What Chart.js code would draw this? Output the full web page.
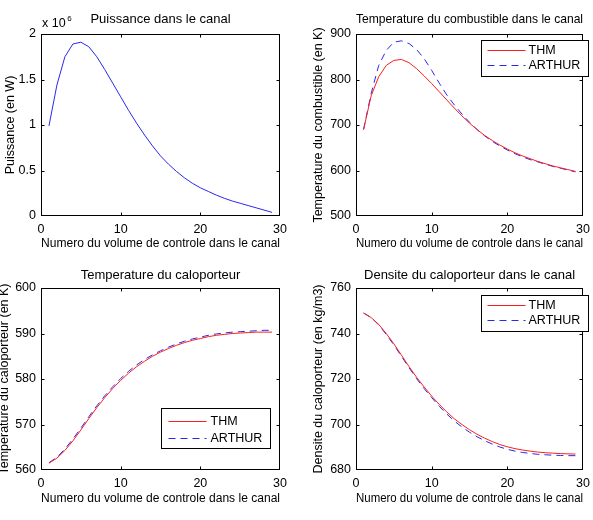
<!DOCTYPE html>
<html>
<head>
<meta charset="utf-8">
<script src="https://cdn.jsdelivr.net/npm/chart.js@4/dist/chart.umd.min.js"></script>
<style>
html,body{margin:0;padding:0;background:#fff;overflow:hidden;width:593px;height:520px;}
#wrap{position:relative;width:593px;height:520px;overflow:hidden;background:#fff;}
canvas{position:absolute;}
</style>
</head>
<body>
<div id="wrap">
<canvas id="c1"></canvas>
<canvas id="c2"></canvas>
<canvas id="c3"></canvas>
<canvas id="c4"></canvas>
</div>
<script>
// ---------- DATA ----------
const volumes = [1,2,3,4,5,6,7,8,9,10,11,12,13,14,15,16,17,18,19,20,21,22,23,24,25,26,27,28,29];
const xTicks = [0,10,20,30];
const seriesNames = ['THM','ARTHUR'];

// Puissance dans le canal, in units of 10^6 W
const puissanceExponent = '6';
const puissance = [0.99,1.44,1.75,1.89,1.91,1.86,1.75,1.61,1.46,1.31,1.16,1.02,0.89,0.77,0.66,0.57,0.49,0.42,0.36,0.31,0.27,0.23,0.195,0.165,0.14,0.115,0.09,0.065,0.04];
const puissanceTicks = [0,0.5,1,1.5,2];

// Temperature du combustible (K)
const tCombTHM    = [690,764,806,831,842,844,837,824,808,791,773,755,737,720,704,690,677,666,656,647,639,632,626,620,615,610,606,602,598];
const tCombARTHUR = [690,769,831,864,882,885,879,866,846,820,792,766,744,724,706,690,676,664,654,645,637,630,624,619,614,609,605,601,597];
const tCombTicks = [500,600,700,800,900];

// Temperature du caloporteur (K)
const tCaloTHM    = [561.5,562.6,564.3,566.4,568.8,571.3,573.7,575.9,577.9,579.7,581.3,582.7,583.9,585.0,585.9,586.7,587.4,588.0,588.5,588.9,589.3,589.6,589.8,590.0,590.1,590.2,590.3,590.3,590.3];
const tCaloARTHUR = [561.6,562.8,564.6,566.8,569.2,571.7,574.1,576.3,578.3,580.1,581.7,583.1,584.3,585.3,586.2,587.0,587.7,588.3,588.8,589.2,589.6,589.9,590.1,590.3,590.4,590.5,590.6,590.7,590.7];
const tCaloTicks = [560,570,580,590,600];

// Densite du caloporteur (kg/m3)
const densTHM    = [749,747,744,740,735.5,730.5,725.5,720.8,716.5,712.5,708.8,705.5,702.5,700,697.7,695.7,694,692.5,691.2,690.2,689.4,688.8,688.3,687.9,687.6,687.4,687.2,687.1,687.0];
const densARTHUR = [749,747,743.8,739.6,735,730,725,720.2,715.8,711.8,708,704.6,701.5,698.9,696.6,694.6,692.9,691.4,690.1,689.1,688.3,687.7,687.3,686.9,686.7,686.5,686.4,686.3,686.3];
const densTicks = [680,700,720,740,760];

// ---------- STYLE ----------
const FONT = "'Liberation Sans', Arial, Helvetica, sans-serif";
const FS = 12.5;
const TFS = 13;
const LH = FS * 1.2;
const TLH = TFS * 1.2;
const BLUE = 'rgb(40,40,240)';
const RED = 'rgb(250,30,30)';
const DASH = [7,5];

const pts = (ys) => volumes.map((v,i) => ({x: v, y: ys[i]}));

const matlabAxes = {
  id: 'matlabAxes',
  afterDraw(chart, args, opts) {
    const ctx = chart.ctx, a = chart.chartArea;
    const xs = chart.scales.x, ys = chart.scales.y;
    const L = Math.round(a.left) + 0.5, R = Math.round(a.right) - 0.5;
    const T = Math.round(a.top) + 0.5, B = Math.round(a.bottom) - 0.5;
    ctx.save();
    ctx.strokeStyle = '#000';
    ctx.lineWidth = 1;
    ctx.beginPath();
    const tl = 3;
    xs.ticks.forEach(t => {
      const p = Math.round(xs.getPixelForValue(t.value)) + 0.5;
      if (p <= L + 1 || p >= R - 1) return;
      ctx.moveTo(p, B); ctx.lineTo(p, B - tl);
      ctx.moveTo(p, T); ctx.lineTo(p, T + tl);
    });
    ys.ticks.forEach(t => {
      const p = Math.round(ys.getPixelForValue(t.value)) + 0.5;
      if (p <= T + 1 || p >= B - 1) return;
      ctx.moveTo(L, p); ctx.lineTo(L + tl, p);
      ctx.moveTo(R, p); ctx.lineTo(R - tl, p);
    });
    ctx.stroke();
    ctx.strokeRect(L, T, R - L, B - T);

    if (opts.legend) {
      const g = opts.legend;
      const bx = Math.round(a.left + g.x) + 0.5, by = Math.round(a.top + g.y) + 0.5;
      ctx.fillStyle = '#fff';
      ctx.fillRect(bx, by, g.w, g.h);
      ctx.strokeStyle = '#000';
      ctx.lineWidth = 1;
      ctx.strokeRect(bx, by, g.w, g.h);
      ctx.font = FS + 'px ' + FONT;
      ctx.textBaseline = 'middle';
      ctx.textAlign = 'left';
      chart.data.datasets.forEach((ds, i) => {
        const ry = Math.round(by + g.rows[i]) + 0.5;
        ctx.save();
        ctx.strokeStyle = ds.borderColor;
        ctx.lineWidth = ds.borderWidth;
        ctx.setLineDash(ds.borderDash || []);
        ctx.beginPath();
        ctx.moveTo(bx + g.lineStart, ry);
        ctx.lineTo(bx + g.lineEnd, ry);
        ctx.stroke();
        ctx.restore();
        ctx.fillStyle = '#000';
        ctx.fillText(ds.label, bx + g.textX, ry + 0.5);
      });
    }
    if (opts.exponent) {
      ctx.fillStyle = '#000';
      ctx.textBaseline = 'middle';
      ctx.textAlign = 'left';
      ctx.font = FS + 'px ' + FONT;
      const base = 'x 10';
      const ex = a.left + 1, ey = a.top - 10;
      ctx.fillText(base, ex, ey);
      const w = ctx.measureText(base).width;
      ctx.font = '8px ' + FONT;
      ctx.fillText(opts.exponent, ex + w + 1.5, ey - 5);
    }
    ctx.restore();
  }
};

function makeChart(id, c) {
  const cv = document.getElementById(id);
  cv.width = c.cw; cv.height = c.ch;
  cv.style.left = c.left + 'px'; cv.style.top = c.top + 'px';
  cv.style.width = c.cw + 'px'; cv.style.height = c.ch + 'px';
  const a = c.area;
  const XH = 40;
  const font = {family: FONT, size: FS, weight: 'normal', lineHeight: 1.2};
  const tfont = {family: FONT, size: TFS, weight: 'normal', lineHeight: 1.2};
  return new Chart(cv, {
    type: 'line',
    data: {datasets: c.datasets},
    plugins: [matlabAxes],
    options: {
      responsive: false,
      animation: false,
      devicePixelRatio: 1,
      events: [],
      layout: {padding: {left: 0, top: 0, right: c.cw - a.right, bottom: c.ch - a.bottom - XH}},
      elements: {point: {radius: 0}, line: {tension: 0}},
      plugins: {
        legend: {display: false},
        tooltip: {enabled: false},
        title: {
          display: true, text: c.title, color: '#000', fullSize: false,
          font: tfont,
          padding: {top: c.titleY - TLH / 2, bottom: a.top - c.titleY - TLH / 2}
        },
        matlabAxes: {legend: c.legend || null, exponent: c.exponent || null}
      },
      scales: {
        x: {
          type: 'linear', min: xTicks[0], max: xTicks[xTicks.length - 1],
          afterFit: s => { s.height = XH; },
          ticks: {stepSize: xTicks[1] - xTicks[0], color: '#000', font: font, padding: 6, maxRotation: 0, autoSkip: false,
                  callback: v => String(v)},
          grid: {display: false, drawTicks: false},
          border: {display: false},
          title: {display: true, text: 'Numero du volume de controle dans le canal', color: '#000', font: font,
                  padding: {top: 0, bottom: a.bottom + XH - LH / 2 - c.xTitleY}}
        },
        y: {
          type: 'linear', min: c.yTicks[0], max: c.yTicks[c.yTicks.length - 1],
          afterFit: s => { s.width = a.left; },
          ticks: {stepSize: c.yTicks[1] - c.yTicks[0], color: '#000', font: font, padding: 5,
                  callback: v => String(Math.round(v * 1000) / 1000)},
          grid: {display: false, drawTicks: false},
          border: {display: false},
          title: {display: true, text: c.yTitle, color: '#000', font: font,
                  padding: {top: c.yTitleX - LH / 2, bottom: 0}}
        }
      }
    }
  });
}

const legendTop = {x: 125, y: 6, w: 107, h: 36, rows: [9.5, 24.5], lineStart: 6, lineEnd: 44, textX: 47};
const legendBL  = {x: 120, y: 120, w: 109, h: 40, rows: [12.3, 29], lineStart: 7, lineEnd: 45, textX: 49};

makeChart('c1', {
  left: 0, top: 0, cw: 296, ch: 260,
  area: {left: 41, top: 34, right: 280, bottom: 216},
  titleY: 19, xTitleY: 244, yTitleX: 11,
  title: 'Puissance dans le canal', yTitle: 'Puissance (en W)',
  yTicks: puissanceTicks, exponent: puissanceExponent,
  datasets: [{label: 'Puissance', data: pts(puissance), borderColor: BLUE, borderWidth: 1, fill: false}]
});

makeChart('c2', {
  left: 296, top: 0, cw: 300, ch: 260,
  area: {left: 60, top: 34, right: 299, bottom: 216},
  titleY: 19, xTitleY: 244, yTitleX: 22.5,
  title: 'Temperature du combustible dans le canal', yTitle: 'Temperature du combustible (en K)',
  yTicks: tCombTicks, legend: legendTop,
  datasets: [
    {label: seriesNames[0], data: pts(tCombTHM), borderColor: RED, borderWidth: 1, fill: false},
    {label: seriesNames[1], data: pts(tCombARTHUR), borderColor: BLUE, borderWidth: 1, borderDash: DASH, fill: false}
  ]
});

makeChart('c3', {
  left: -4, top: 260, cw: 300, ch: 260,
  area: {left: 45, top: 28, right: 284, bottom: 210},
  titleY: 15, xTitleY: 239, yTitleX: 9,
  title: 'Temperature du caloporteur', yTitle: 'Temperature du caloporteur (en K)',
  yTicks: tCaloTicks, legend: legendBL,
  datasets: [
    {label: seriesNames[0], data: pts(tCaloTHM), borderColor: RED, borderWidth: 1, fill: false},
    {label: seriesNames[1], data: pts(tCaloARTHUR), borderColor: BLUE, borderWidth: 1, borderDash: DASH, fill: false}
  ]
});

makeChart('c4', {
  left: 296, top: 260, cw: 300, ch: 260,
  area: {left: 60, top: 28, right: 299, bottom: 210},
  titleY: 15, xTitleY: 239, yTitleX: 23,
  title: 'Densite du caloporteur dans le canal', yTitle: 'Densite du caloporteur (en kg/m3)',
  yTicks: densTicks, legend: {x: 125, y: 7, w: 107, h: 36, rows: [9.5, 24.5], lineStart: 6, lineEnd: 44, textX: 47},
  datasets: [
    {label: seriesNames[0], data: pts(densTHM), borderColor: RED, borderWidth: 1, fill: false},
    {label: seriesNames[1], data: pts(densARTHUR), borderColor: BLUE, borderWidth: 1, borderDash: DASH, fill: false}
  ]
});
</script>
</body>
</html>
